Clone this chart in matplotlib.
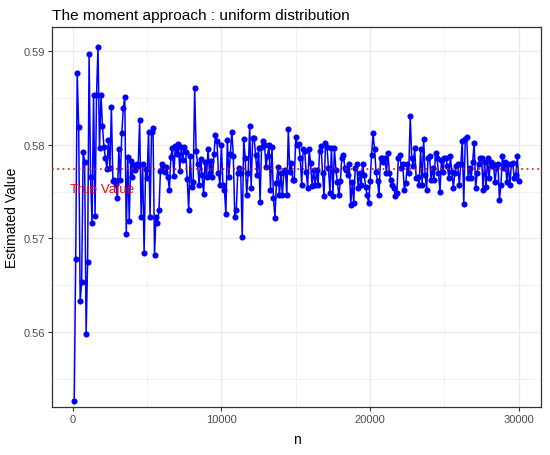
import numpy as np
import matplotlib
matplotlib.use("Agg")
import matplotlib.pyplot as plt
from matplotlib.ticker import MultipleLocator

# sample sizes
n = np.arange(100, 30001, 100)

# estimated values, blocks of 1000
est = [
    0.5526, 0.5678, 0.5876, 0.5819, 0.5633, 0.5653, 0.5792, 0.5782, 0.5598, 0.5675,
    0.5897, 0.5765, 0.5716, 0.5853, 0.5724, 0.5853, 0.5904, 0.5796, 0.5853, 0.5820,
    0.5797, 0.5786, 0.5774, 0.5805, 0.5775, 0.5840, 0.5761, 0.5762, 0.5758, 0.5743,
    0.5795, 0.5762, 0.5812, 0.5839, 0.5851, 0.5705, 0.5787, 0.5719, 0.5783, 0.5765,
    0.5778, 0.5773, 0.5779, 0.5777, 0.5826, 0.5723, 0.5779, 0.5684, 0.5774, 0.5764,
    0.5814, 0.5723, 0.5814, 0.5818, 0.5682, 0.5723, 0.5716, 0.5730, 0.5772, 0.5779,
    0.5776, 0.5771, 0.5776, 0.5766, 0.5752, 0.5787, 0.5796, 0.5767, 0.5799, 0.5790,
    0.5801, 0.5772, 0.5798, 0.5784, 0.5797, 0.5792, 0.5763, 0.5730, 0.5788, 0.5755,
    0.5760, 0.5860, 0.5793, 0.5779, 0.5757, 0.5785, 0.5768, 0.5747, 0.5782, 0.5766,
    0.5795, 0.5770, 0.5783, 0.5765, 0.5790, 0.5810, 0.5804, 0.5770, 0.5757, 0.5800,
    0.5757, 0.5752, 0.5726, 0.5805, 0.5766, 0.5790, 0.5814, 0.5788, 0.5723, 0.5730,
    0.5770, 0.5775, 0.5770, 0.5701, 0.5806, 0.5786, 0.5746, 0.5770, 0.5820, 0.5754,
    0.5807, 0.5807, 0.5789, 0.5768, 0.5796, 0.5739, 0.5798, 0.5804, 0.5800, 0.5776,
    0.5788, 0.5800, 0.5752, 0.5797, 0.5743, 0.5722, 0.5759, 0.5776, 0.5746, 0.5770,
    0.5746, 0.5771, 0.5773, 0.5746, 0.5817, 0.5771, 0.5780, 0.5762, 0.5762, 0.5808,
    0.5800, 0.5801, 0.5786, 0.5757, 0.5795, 0.5793, 0.5771, 0.5754, 0.5795, 0.5780,
    0.5756, 0.5773, 0.5757, 0.5773, 0.5757, 0.5793, 0.5799, 0.5770, 0.5745, 0.5802,
    0.5798, 0.5775, 0.5748, 0.5796, 0.5745, 0.5796, 0.5773, 0.5760, 0.5746, 0.5761,
    0.5786, 0.5789, 0.5775, 0.5773, 0.5768, 0.5779, 0.5736, 0.5760, 0.5738, 0.5775,
    0.5779, 0.5754, 0.5770, 0.5757, 0.5779, 0.5768, 0.5755, 0.5746, 0.5738, 0.5761,
    0.5789, 0.5812, 0.5795, 0.5771, 0.5761, 0.5746, 0.5786, 0.5786, 0.5782, 0.5786,
    0.5770, 0.5791, 0.5770, 0.5762, 0.5757, 0.5754, 0.5745, 0.5748, 0.5786, 0.5789,
    0.5775, 0.5779, 0.5752, 0.5759, 0.5779, 0.5770, 0.5831, 0.5786, 0.5777, 0.5796,
    0.5764, 0.5766, 0.5757, 0.5795, 0.5757, 0.5806, 0.5768, 0.5752, 0.5786, 0.5788,
    0.5762, 0.5775, 0.5762, 0.5791, 0.5786, 0.5770, 0.5750, 0.5784, 0.5771, 0.5786,
    0.5786, 0.5777, 0.5764, 0.5788, 0.5771, 0.5754, 0.5770, 0.5777, 0.5779, 0.5757,
    0.5779, 0.5804, 0.5737, 0.5806, 0.5808, 0.5764, 0.5775, 0.5764, 0.5782, 0.5802,
    0.5754, 0.5770, 0.5779, 0.5786, 0.5786, 0.5752, 0.5782, 0.5755, 0.5786, 0.5764,
    0.5782, 0.5777, 0.5779, 0.5760, 0.5775, 0.5779, 0.5741, 0.5757, 0.5788, 0.5775,
    0.5782, 0.5760, 0.5779, 0.5757, 0.5779, 0.5780, 0.5764, 0.5768, 0.5788, 0.5761,
]

true_value = 0.57735
label_text = "True Value"
label_x = 2000
label_y = 0.5753
title = "The moment approach : uniform distribution"
xlabel = "n"
ylabel = "Estimated Value"
xticks = [0, 10000, 20000, 30000]
yticks = [0.56, 0.57, 0.58, 0.59]
ylim = (0.5520, 0.59256)

plt.rcParams['font.family'] = ['Liberation Sans', 'DejaVu Sans']

W, H = 550, 456
fig = plt.figure(figsize=(W / 100, H / 100), dpi=100)
ax = fig.add_axes([52 / W, 1 - 408 / H, (541 - 52) / W, (408 - 28) / H])

x = np.asarray(n, dtype=float)
y = np.asarray(est, dtype=float)

ax.plot(x, y, color='#0000FF', linewidth=1.1, zorder=3)
ax.plot(x, y, 'o', color='#0000FF', markersize=4.4, markeredgewidth=0, zorder=4)
ax.axhline(true_value, color='#FF0000', linestyle=(0, (1, 2.2)), linewidth=1.2, zorder=5)
ax.text(label_x, label_y, label_text, color='#FF0000', fontsize=9.6,
        ha='center', va='center', zorder=6)

xr = x.max() - x.min()
ax.set_xlim(x.min() - 0.05 * xr, x.max() + 0.05 * xr)
ax.set_ylim(*ylim)

ax.set_xticks(xticks)
ax.set_yticks(yticks)
ax.set_xticklabels([str(t) for t in xticks])
ax.set_yticklabels([f"{t:.2f}" for t in yticks])
ax.xaxis.set_minor_locator(MultipleLocator(5000))
ax.yaxis.set_minor_locator(MultipleLocator(0.005))

ax.grid(True, which='major', color='#EBEBEB', linewidth=1.0, zorder=0)
ax.grid(True, which='minor', color='#EBEBEB', linewidth=0.5, zorder=0)
ax.set_axisbelow(True)

for s in ax.spines.values():
    s.set_color('#333333')
    s.set_linewidth(0.9)

ax.tick_params(which='major', length=3, width=0.8, color='#333333',
               labelsize=8, labelcolor='#4D4D4D', pad=2)
ax.tick_params(which='minor', length=0)

ax.set_xlabel(xlabel, fontsize=10, color='black', labelpad=6)
ax.set_ylabel(ylabel, fontsize=10, color='black', labelpad=3)
ax.set_title(title, fontsize=11.1, loc='left', color='black', pad=6)

fig.savefig("out.png", dpi=100)
